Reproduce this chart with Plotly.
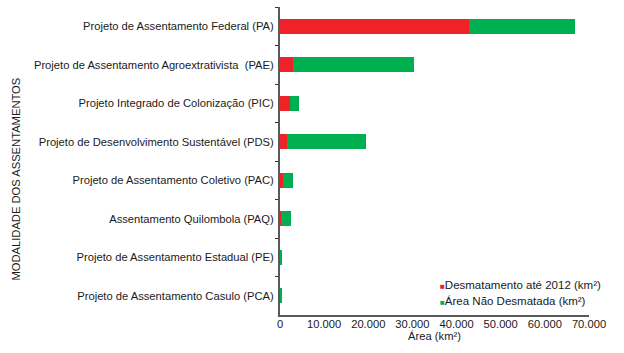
import plotly.graph_objects as go

categories = [
    "Projeto de Assentamento Federal (PA)",
    "Projeto de Assentamento Agroextrativista  (PAE)",
    "Projeto Integrado de Colonização (PIC)",
    "Projeto de Desenvolvimento Sustentável (PDS)",
    "Projeto de Assentamento Coletivo (PAC)",
    "Assentamento Quilombola (PAQ)",
    "Projeto de Assentamento Estadual (PE)",
    "Projeto de Assentamento Casulo (PCA)",
]
desmatamento = [42750, 2900, 2200, 1500, 770, 150, 60, 50]
nao_desmatada = [24050, 27400, 2000, 17900, 2100, 2250, 220, 180]
series_names = ["Desmatamento até 2012 (km²)", "Área Não Desmatada (km²)"]
x_ticks = [0, 10000, 20000, 30000, 40000, 50000, 60000, 70000]

RED = "#EE2227"
GREEN = "#00B050"
FONT = "Liberation Sans, Arial, sans-serif"
FS = 11.2

fig = go.Figure()
fig.add_trace(go.Bar(y=categories, x=desmatamento, orientation="h", name=series_names[0],
                     marker=dict(color=RED, line=dict(width=0)), width=0.38, showlegend=False))
fig.add_trace(go.Bar(y=categories, x=nao_desmatada, orientation="h", name=series_names[1],
                     marker=dict(color=GREEN, line=dict(width=0)), width=0.38, showlegend=False))

legend_anns = []
for name, color, yy in [(series_names[0], RED, 0.0974), (series_names[1], GREEN, 0.0455)]:
    legend_anns.append(dict(
        text=f"<span style='color:{color};font-size:8px'>■</span>{name}",
        xref="paper", yref="paper", x=0.512, y=yy, xanchor="left", yanchor="middle",
        showarrow=False, font=dict(size=11.5, color="#1a1a1a")))

fig.update_layout(
    width=624, height=353,
    barmode="stack",
    separators=",.",
    plot_bgcolor="white", paper_bgcolor="white",
    margin=dict(l=280, r=35, t=7, b=38),
    font=dict(family=FONT, size=FS, color="#1a1a1a"),
    annotations=[dict(text="MODALIDADE DOS ASSENTAMENTOS", textangle=-90, xref="paper", yref="paper",
                      x=-0.854, y=0.44, xanchor="center", yanchor="middle", showarrow=False,
                      font=dict(size=FS, color="#1a1a1a"))] + legend_anns,
)
fig.update_xaxes(range=[0, 70000], tickvals=x_ticks,
                 tickformat=",d", showgrid=False, zeroline=False, showline=True, linecolor="#595959",
                 linewidth=2, ticks="", ticklabelstandoff=-2,
                 title=dict(text="Área (km²)", standoff=2, font=dict(size=FS)),
                 tickfont=dict(size=FS))
fig.update_yaxes(categoryorder="array", categoryarray=categories, autorange="reversed",
                 showgrid=False, showline=True, linecolor="#595959", linewidth=2,
                 ticks="outside", tickson="boundaries", ticklen=3, tickcolor="#333", tickwidth=1,
                 tickfont=dict(size=FS), ticklabelstandoff=2)

fig.write_html("out.html")
